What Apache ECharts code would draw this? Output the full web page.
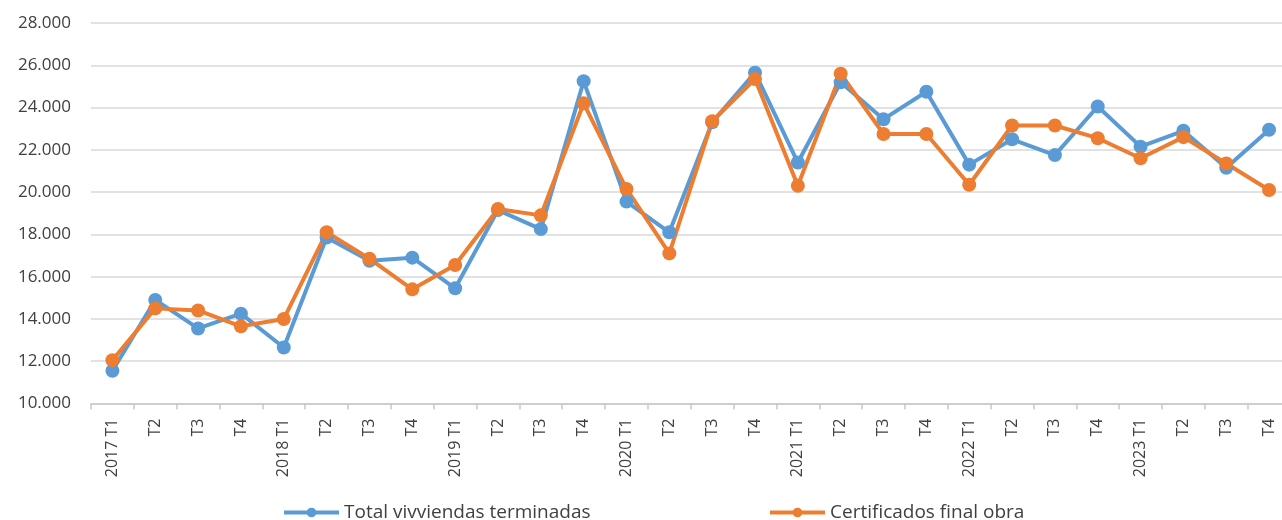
<!DOCTYPE html>
<html>
<head>
<meta charset="utf-8">
<script src="https://cdn.jsdelivr.net/npm/echarts@6/dist/echarts.min.js"></script>
<style>
  html, body { margin: 0; padding: 0; background: #fff; }
  #chart { width: 1282px; height: 520px; }
</style>
</head>
<body>
<div id="chart"></div>
<script>
// trimestres 2017 T1 .. 2023 T4
const categories = [
  "2017 T1", "T2", "T3", "T4",
  "2018 T1", "T2", "T3", "T4",
  "2019 T1", "T2", "T3", "T4",
  "2020 T1", "T2", "T3", "T4",
  "2021 T1", "T2", "T3", "T4",
  "2022 T1", "T2", "T3", "T4",
  "2023 T1", "T2", "T3", "T4"
];
const viviendasTerminadas = [
  11550, 14900, 13550, 14250,
  12650, 17850, 16750, 16900,
  15450, 19150, 18250, 25250,
  19550, 18100, 23300, 25650,
  21400, 25200, 23450, 24750,
  21300, 22500, 21750, 24050,
  22150, 22900, 21150, 22950
];
const certificadosFinalObra = [
  12050, 14500, 14400, 13650,
  14000, 18100, 16850, 15400,
  16550, 19200, 18900, 24200,
  20150, 17100, 23350, 25350,
  20300, 25600, 22750, 22750,
  20350, 23150, 23150, 22550,
  21600, 22600, 21350, 20100
];
const yTicks = [10000, 28000, 2000]; // min, max, interval

const names = ["Total vivviendas terminadas", "Certificados final obra"];
const colors = ["#5B9BD5", "#ED7D31"];
const font = "'Open Sans', sans-serif";

let myChart = echarts.init(document.getElementById("chart"), null, { renderer: "canvas" });

function lineSeries(name, data, color) {
  return {
    name: name,
    type: "line",
    data: data,
    symbol: "circle",
    symbolSize: 14,
    color: color,
    lineStyle: { width: 4, color: color },
    itemStyle: { color: color },
    emphasis: { disabled: true },
    animation: false
  };
}

function legendItem(name, left) {
  return {
    data: [name],
    left: left, top: 498,
    itemWidth: 55, itemHeight: 12,
    itemGap: 0,
    lineStyle: { width: 4 },
    textStyle: { fontFamily: font, fontSize: 19, color: "#404040" }
  };
}

myChart.setOption({
  animation: false,
  // la última banda sale del lienzo por la derecha
  grid: {
    left: 91, width: 1199.5, top: 23, bottom: 116.5,
    containLabel: false, outerBoundsMode: "none"
  },
  legend: [legendItem(names[0], 277), legendItem(names[1], 763)],
  xAxis: {
    type: "category",
    data: categories,
    boundaryGap: true,
    axisLine: { lineStyle: { color: "#c8c8c8", width: 1.5 } },
    axisTick: { show: true, length: 6, lineStyle: { color: "#c8c8c8", width: 1.5 } },
    axisLabel: {
      rotate: 90,
      interval: 0,
      margin: 15,
      fontFamily: font,
      fontSize: 16,
      color: "#404040"
    }
  },
  yAxis: {
    type: "value",
    min: yTicks[0],
    max: yTicks[1],
    interval: yTicks[2],
    axisLine: { show: false },
    axisTick: { show: false },
    splitLine: { lineStyle: { color: "#d9d9d9", width: 1.5 } },
    axisLabel: {
      margin: 20,
      fontFamily: font,
      fontSize: 17,
      color: "#404040",
      formatter: function (v) {
        return String(v).replace(/\B(?=(\d{3})+(?!\d))/g, ".");
      }
    }
  },
  series: [
    lineSeries(names[0], viviendasTerminadas, colors[0]),
    lineSeries(names[1], certificadosFinalObra, colors[1])
  ]
});
</script>
</body>
</html>
